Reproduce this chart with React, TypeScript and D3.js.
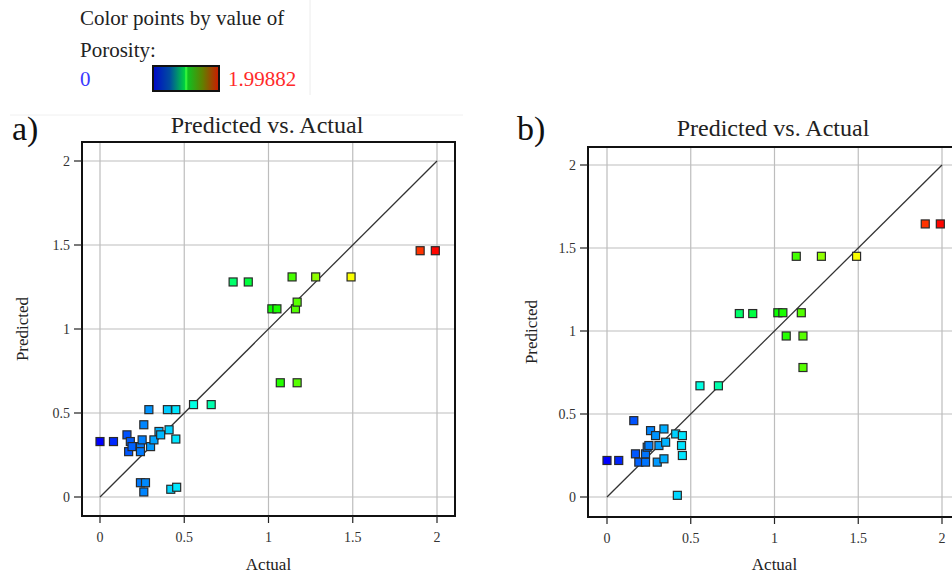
import * as d3 from "d3"
import { useEffect, useRef } from "react"

// Panel a) readings
const actualA = [0, 0.08, 0.16, 0.18, 0.17, 0.19, 0.24, 0.24, 0.25, 0.26, 0.29, 0.3, 0.32, 0.35, 0.36, 0.4, 0.45, 0.41, 0.45, 0.24, 0.27, 0.26, 0.42, 0.455, 0.555, 0.66, 0.79, 0.88, 1.02, 1.05, 1.16, 1.17, 1.07, 1.17, 1.14, 1.28, 1.49, 1.9, 1.99]
const predictedA = [0.33, 0.33, 0.37, 0.33, 0.27, 0.3, 0.3, 0.27, 0.34, 0.43, 0.52, 0.3, 0.34, 0.39, 0.37, 0.52, 0.52, 0.4, 0.345, 0.085, 0.085, 0.03, 0.046, 0.058, 0.55, 0.55, 1.28, 1.28, 1.12, 1.12, 1.12, 1.16, 0.68, 0.68, 1.31, 1.31, 1.31, 1.466, 1.466]

// Panel b) readings
const actualB = [0, 0.07, 0.16, 0.17, 0.19, 0.23, 0.23, 0.24, 0.25, 0.26, 0.29, 0.3, 0.31, 0.34, 0.34, 0.35, 0.41, 0.45, 0.445, 0.45, 0.42, 0.555, 0.665, 0.79, 0.87, 1.02, 1.05, 1.16, 1.07, 1.17, 1.17, 1.13, 1.28, 1.49, 1.9, 1.99]
const predictedB = [0.22, 0.22, 0.46, 0.26, 0.21, 0.21, 0.26, 0.3, 0.31, 0.4, 0.37, 0.21, 0.31, 0.41, 0.23, 0.33, 0.38, 0.37, 0.31, 0.25, 0.01, 0.67, 0.67, 1.105, 1.105, 1.11, 1.11, 1.11, 0.97, 0.97, 0.78, 1.45, 1.45, 1.45, 1.645, 1.645]

const axisTicks = [0, 0.5, 1, 1.5, 2]
const colorStops = [0, 0.5, 1, 1.5, 2]
const colorRange = ["#0000ff", "#00ffff", "#00ff00", "#ffff00", "#ff0000"]
const porosityMax = 1.99882

const FONT = "'Liberation Serif', 'Times New Roman', serif"

const panels = [
    { label: "a)", actual: actualA, predicted: predictedA, left: 82, right: 455, top: 142, bottom: 516, x0: 100, x2: 437, y0: 497, y2: 161, tag: [12, 140], title: [267, 133], yLab: 22 },
    { label: "b)", actual: actualB, predicted: predictedB, left: 588, right: 962, top: 147, bottom: 517, x0: 607, x2: 942, y0: 497, y2: 165, tag: [517, 140], title: [773, 136], yLab: 531 },
]

export default function App() {
    const svgRef = useRef<SVGSVGElement>(null)

    useEffect(() => {
        if (!svgRef.current) return
        const svg = d3.select(svgRef.current)
        svg.selectAll("*").remove()

        const color = d3.scaleLinear<string>().domain(colorStops).range(colorRange).clamp(true)

        // faint borders of the pasted figure parts
        svg.append("line").attr("x1", 310).attr("x2", 310).attr("y1", 0).attr("y2", 95).attr("stroke", "#ececec")
        svg.append("line").attr("x1", 10).attr("x2", 463).attr("y1", 115).attr("y2", 115).attr("stroke", "#f0f0f0")

        // legend
        const leg = svg.append("g").attr("font-family", FONT).attr("font-size", 21).attr("fill", "#222")
        leg.append("text").attr("x", 80).attr("y", 25).text("Color points by value of")
        leg.append("text").attr("x", 80).attr("y", 57).text("Porosity:")
        leg.append("text").attr("x", 80).attr("y", 86).attr("fill", "#3a3aff").text("0")
        leg.append("text").attr("x", 228).attr("y", 86).attr("fill", "#ff2a2a").text(String(porosityMax))

        const defs = svg.append("defs")
        const grad = defs.append("linearGradient").attr("id", "porGrad")
        const gStops = [
            [0, "#0008c8"],
            [0.25, "#004aa0"],
            [0.48, "#00d040"],
            [0.5, "#40ff40"],
            [0.53, "#10c020"],
            [0.75, "#608000"],
            [1, "#d01800"],
        ]
        gStops.forEach(([o, c]) => grad.append("stop").attr("offset", o as number).attr("stop-color", c as string))
        svg.append("rect").attr("x", 153).attr("y", 66).attr("width", 66).attr("height", 25)
            .attr("fill", "url(#porGrad)").attr("stroke", "#111").attr("stroke-width", 2)

        panels.forEach((p) => {
            const x = d3.scaleLinear().domain([0, 2]).range([p.x0, p.x2])
            const y = d3.scaleLinear().domain([0, 2]).range([p.y0, p.y2])
            const g = svg.append("g")

            // gridlines
            g.selectAll(".gx").data(axisTicks).join("line")
                .attr("x1", (d) => x(d)).attr("x2", (d) => x(d))
                .attr("y1", p.top).attr("y2", p.bottom)
                .attr("stroke", "#bdbdbd").attr("stroke-width", 1.2)
            g.selectAll(".gy").data(axisTicks).join("line")
                .attr("y1", (d) => y(d)).attr("y2", (d) => y(d))
                .attr("x1", p.left).attr("x2", p.right)
                .attr("stroke", "#bdbdbd").attr("stroke-width", 1.2)

            // frame
            g.append("rect").attr("x", p.left).attr("y", p.top)
                .attr("width", p.right - p.left).attr("height", p.bottom - p.top)
                .attr("fill", "none").attr("stroke", "#111").attr("stroke-width", 2)

            // ticks
            g.selectAll(".tx").data(axisTicks).join("line")
                .attr("x1", (d) => x(d)).attr("x2", (d) => x(d))
                .attr("y1", p.bottom).attr("y2", p.bottom + 7)
                .attr("stroke", "#222").attr("stroke-width", 1.2)
            g.selectAll(".ty").data(axisTicks).join("line")
                .attr("y1", (d) => y(d)).attr("y2", (d) => y(d))
                .attr("x1", p.left - 8).attr("x2", p.left)
                .attr("stroke", "#222").attr("stroke-width", 1.2)

            const fmt = (d: number) => String(d)
            g.selectAll(".lx").data(axisTicks).join("text")
                .attr("x", (d) => x(d)).attr("y", p.bottom + 26)
                .attr("text-anchor", "middle").attr("font-family", FONT).attr("font-size", 14).attr("fill", "#333")
                .text(fmt)
            g.selectAll(".ly").data(axisTicks).join("text")
                .attr("x", p.left - 12).attr("y", (d) => y(d) + 5)
                .attr("text-anchor", "end").attr("font-family", FONT).attr("font-size", 14).attr("fill", "#333")
                .text(fmt)

            // diagonal
            g.append("line").attr("x1", x(0)).attr("y1", y(0)).attr("x2", x(2)).attr("y2", y(2))
                .attr("stroke", "#333").attr("stroke-width", 1.3)

            // points
            const pts = p.actual.map((a, i) => ({ a, pr: p.predicted[i] }))
            g.selectAll(".pt").data(pts).join("rect")
                .attr("x", (d) => x(d.a) - 4).attr("y", (d) => y(d.pr) - 4)
                .attr("width", 8).attr("height", 8)
                .attr("fill", (d) => color(d.a)).attr("stroke", "#2a2a2a").attr("stroke-width", 1.2)

            // texts
            g.append("text").attr("x", p.tag[0]).attr("y", p.tag[1])
                .attr("font-family", FONT).attr("font-size", 34).attr("fill", "#111").text(p.label)
            g.append("text").attr("x", p.title[0]).attr("y", p.title[1]).attr("text-anchor", "middle")
                .attr("font-family", FONT).attr("font-size", 24).attr("fill", "#222").text("Predicted vs. Actual")
            g.append("text").attr("x", x(1)).attr("y", 570).attr("text-anchor", "middle")
                .attr("font-family", FONT).attr("font-size", 17).attr("fill", "#222").text("Actual")
            g.append("text").attr("transform", `translate(${p.yLab},${(p.top + p.bottom) / 2}) rotate(-90)`)
                .attr("text-anchor", "middle").attr("dy", "0.35em")
                .attr("font-family", FONT).attr("font-size", 17).attr("fill", "#222").text("Predicted")
        })
    }, [])

    return (
        <svg
            ref={svgRef}
            width={952}
            height={576}
            viewBox="0 0 952 576"
            style={{ position: "absolute", left: 0, top: 0, background: "#fff" }}
        />
    )
}
